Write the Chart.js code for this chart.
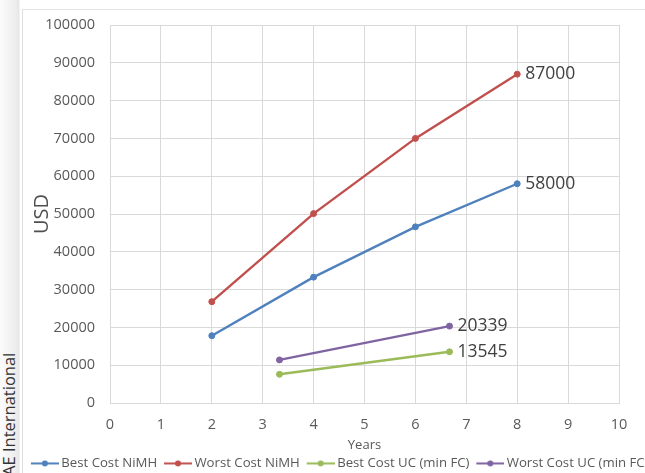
<!DOCTYPE html>
<html>
<head>
<meta charset="utf-8">
<script src="https://cdn.jsdelivr.net/npm/chart.js@4"></script>
<style>
  html, body { margin: 0; padding: 0; background: #fff; overflow: hidden; width: 645px; height: 473px; }
  #frame { position: absolute; left: 0; top: 0; width: 645px; height: 473px; overflow: hidden; }
  .strip { position: absolute; left: 0; top: 0; width: 21px; height: 473px;
           background: linear-gradient(to right, #fcfcfc 0, #ededed 16px, #e6e6e6 19px, #ffffff 20px); }
  .edgeV { position: absolute; left: 22px; top: 10px; width: 1px; height: 463px; background: #dedede; }
  .edgeH { position: absolute; left: 22px; top: 9px; width: 623px; height: 1px; background: #e2e2e2; }
  .credit { position: absolute; left: 0; top: 485px; transform-origin: 0 0; transform: rotate(-90deg);
            font: 16.5px "Open Sans", sans-serif; line-height: 17px; color: #333; white-space: nowrap; }
  canvas { position: absolute; left: 0; top: 0; }
</style>
</head>
<body>
<div id="frame">
  <div class="strip"></div>
  <div class="edgeV"></div>
  <div class="edgeH"></div>
  <div class="credit">SAE International</div>
  <canvas id="c" width="700" height="480"></canvas>
</div>
<script>
// Battery cost over time (USD)
const seriesNames = ['Best Cost NiMH', 'Worst Cost NiMH', 'Best Cost UC (min FC)', 'Worst Cost UC (min FC)'];
const seriesColors = ['#4F81BD', '#C0504D', '#9BBB59', '#8064A2'];

const nimhYears = [2, 4, 6, 8];
const bestCostNiMH = [17800, 33300, 46600, 58000];
const worstCostNiMH = [26800, 50100, 70000, 87000];

const ucYears = [3.33, 6.67];
const bestCostUC = [7600, 13545];
const worstCostUC = [11400, 20339];

const yearTicks = [0, 1, 2, 3, 4, 5, 6, 7, 8, 9, 10];
const usdTicks = [0, 10000, 20000, 30000, 40000, 50000, 60000, 70000, 80000, 90000, 100000];

const xAxisTitle = 'Years';
const yAxisTitle = 'USD';

const toPoints = (xs, ys) => xs.map((x, i) => ({ x: x, y: ys[i] }));

const seriesData = [
  toPoints(nimhYears, bestCostNiMH),
  toPoints(nimhYears, worstCostNiMH),
  toPoints(ucYears, bestCostUC),
  toPoints(ucYears, worstCostUC)
];

// legend swatch: short line with a dot in the middle
function legendMarker(color) {
  const c = document.createElement('canvas');
  c.width = 35; c.height = 9;
  const g = c.getContext('2d');
  g.strokeStyle = color; g.lineWidth = 2;
  g.beginPath(); g.moveTo(7, 4.5); g.lineTo(35, 4.5); g.stroke();
  g.fillStyle = color;
  g.beginPath(); g.arc(21, 4.5, 3, 0, Math.PI * 2); g.fill();
  return c;
}

// value label to the right of each series' last point
const endLabels = {
  id: 'endLabels',
  afterDatasetsDraw(chart) {
    const ctx = chart.ctx;
    ctx.save();
    ctx.font = '17.5px "Open Sans", sans-serif';
    ctx.fillStyle = '#404040';
    ctx.textBaseline = 'middle';
    ctx.textAlign = 'left';
    chart.data.datasets.forEach((ds, i) => {
      const meta = chart.getDatasetMeta(i);
      const el = meta.data[meta.data.length - 1];
      const v = ds.data[ds.data.length - 1].y;
      ctx.fillText(String(v), el.x + 8, el.y);
    });
    ctx.restore();
  }
};

function draw() {
  Chart.defaults.font.family = '"Open Sans", sans-serif';
  Chart.defaults.color = '#595959';

  const gridColor = '#d9d9d9';

  new Chart(document.getElementById('c'), {
    type: 'line',
    data: {
      datasets: seriesNames.map((name, i) => ({
        label: name,
        data: seriesData[i],
        borderColor: seriesColors[i],
        backgroundColor: seriesColors[i],
        pointBackgroundColor: seriesColors[i],
        pointBorderColor: seriesColors[i],
        borderWidth: 2.4,
        pointRadius: 3,
        pointBorderWidth: 1,
        tension: 0,
        fill: false
      }))
    },
    options: {
      responsive: false,
      animation: false,
      devicePixelRatio: 1,
      layout: { padding: { left: 24, right: 0, top: 25, bottom: 0 } },
      scales: {
        x: {
          type: 'linear',
          min: 0, max: 10,
          afterBuildTicks: s => { s.ticks = yearTicks.map(v => ({ value: v })); },
          afterFit: s => { s.height = 49.8; },
          grid: { color: gridColor, drawTicks: false },
          border: { color: gridColor },
          ticks: { padding: 13, font: { size: 14.5 }, color: '#595959' },
          title: { display: true, text: xAxisTitle, font: { size: 13 }, color: '#595959', padding: { top: 0, bottom: 0 } }
        },
        y: {
          type: 'linear',
          min: 0, max: 100000,
          afterBuildTicks: s => { s.ticks = usdTicks.map(v => ({ value: v })); },
          afterFit: s => { s.width = 86; },
          grid: { color: gridColor, drawTicks: false },
          border: { color: gridColor },
          ticks: { padding: 15, font: { size: 14.5 }, color: '#595959', callback: v => String(v) },
          title: { display: true, text: yAxisTitle, font: { size: 20 }, color: '#505050', padding: { top: 6, bottom: 0 } }
        },
        pad: {
          type: 'linear',
          position: 'right',
          display: true,
          afterFit: s => { s.width = 81; },
          grid: { display: false, drawTicks: false },
          border: { display: false },
          ticks: { display: false }
        }
      },
      plugins: {
        tooltip: { enabled: false },
        legend: {
          position: 'bottom',
          align: 'start',
          labels: {
            usePointStyle: true,
            pointStyleWidth: 26.7,
            padding: 4,
            color: '#595959',
            font: { size: 13.2 },
            generateLabels(chart) {
              const items = Chart.defaults.plugins.legend.labels.generateLabels(chart);
              items.forEach((it, i) => { it.pointStyle = legendMarker(seriesColors[i]); });
              return items;
            }
          }
        }
      }
    },
    plugins: [endLabels]
  });
}

if (document.fonts && document.fonts.load) {
  document.fonts.load('14px "Open Sans"').then(draw, draw);
} else {
  draw();
}
</script>
</body>
</html>
